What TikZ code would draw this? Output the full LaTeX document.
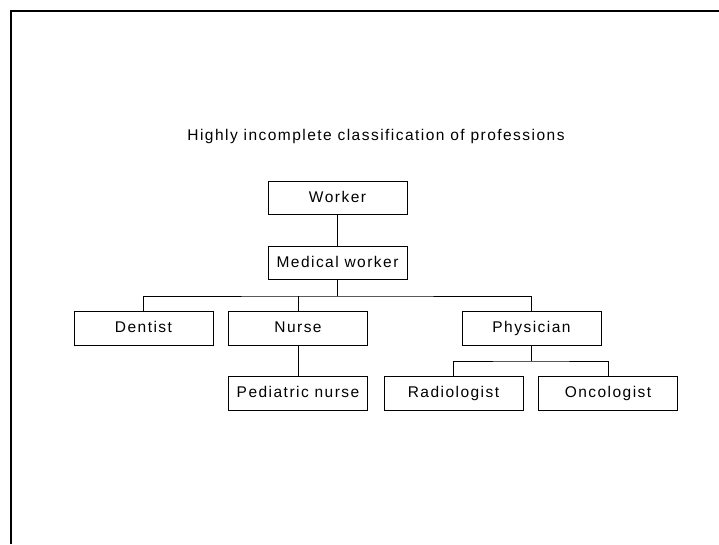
\documentclass[tikz,border=0pt]{standalone}
\usepackage{fontspec}
\setmainfont{Liberation Sans}[LetterSpace=9.5]
\begin{document}
\begin{tikzpicture}[x=1pt,y=-1pt,
  box/.style={draw,line width=1pt,minimum width=139pt,minimum height=33.5pt,
    inner sep=0pt,text height=11.5pt,text depth=3.5pt,
    font=\fontsize{15.5}{18}\selectfont},
  link/.style={line width=1pt}]
\useasboundingbox (0,0) rectangle (719,544);
% page frame
\draw[line width=2pt] (11,544) -- (11,11) -- (719,11);
% title
\node[font=\fontsize{15.5}{18}\selectfont] (title) at (376,136) {Highly incomplete classification of professions};
% boxes
\node[box] (worker)     at (337.5,198)   {Worker};
\node[box] (medical)    at (337.5,263)   {Medical worker};
\node[box] (dentist)    at (143.5,328.5) {Dentist};
\node[box] (nurse)      at (298,328.5)   {Nurse};
\node[box] (pediatric)  at (298,393.5)   {Pediatric nurse};
\node[box] (physician)  at (531.5,328.5) {Physician};
\node[box] (radiologist) at (453.5,393.5) {Radiologist};
\node[box] (oncologist) at (608,393.5)   {Oncologist};
% junction points
\coordinate (bus)  at (337.5,296);
\coordinate (pbus) at (531.5,361);
% connectors
\draw[link] (worker.south) -- (medical.north);
\draw[link] (medical.south) -- (bus);
\draw[link] (dentist.north) |- (bus) -| (physician.north);
\draw[link] (nurse.north) -- (nurse.north |- bus);
\draw[link] (nurse.south) -- (pediatric.north);
\draw[link] (physician.south) -- (pbus);
\draw[link] (radiologist.north) |- (pbus) -| (oncologist.north);
\end{tikzpicture}
\end{document}
